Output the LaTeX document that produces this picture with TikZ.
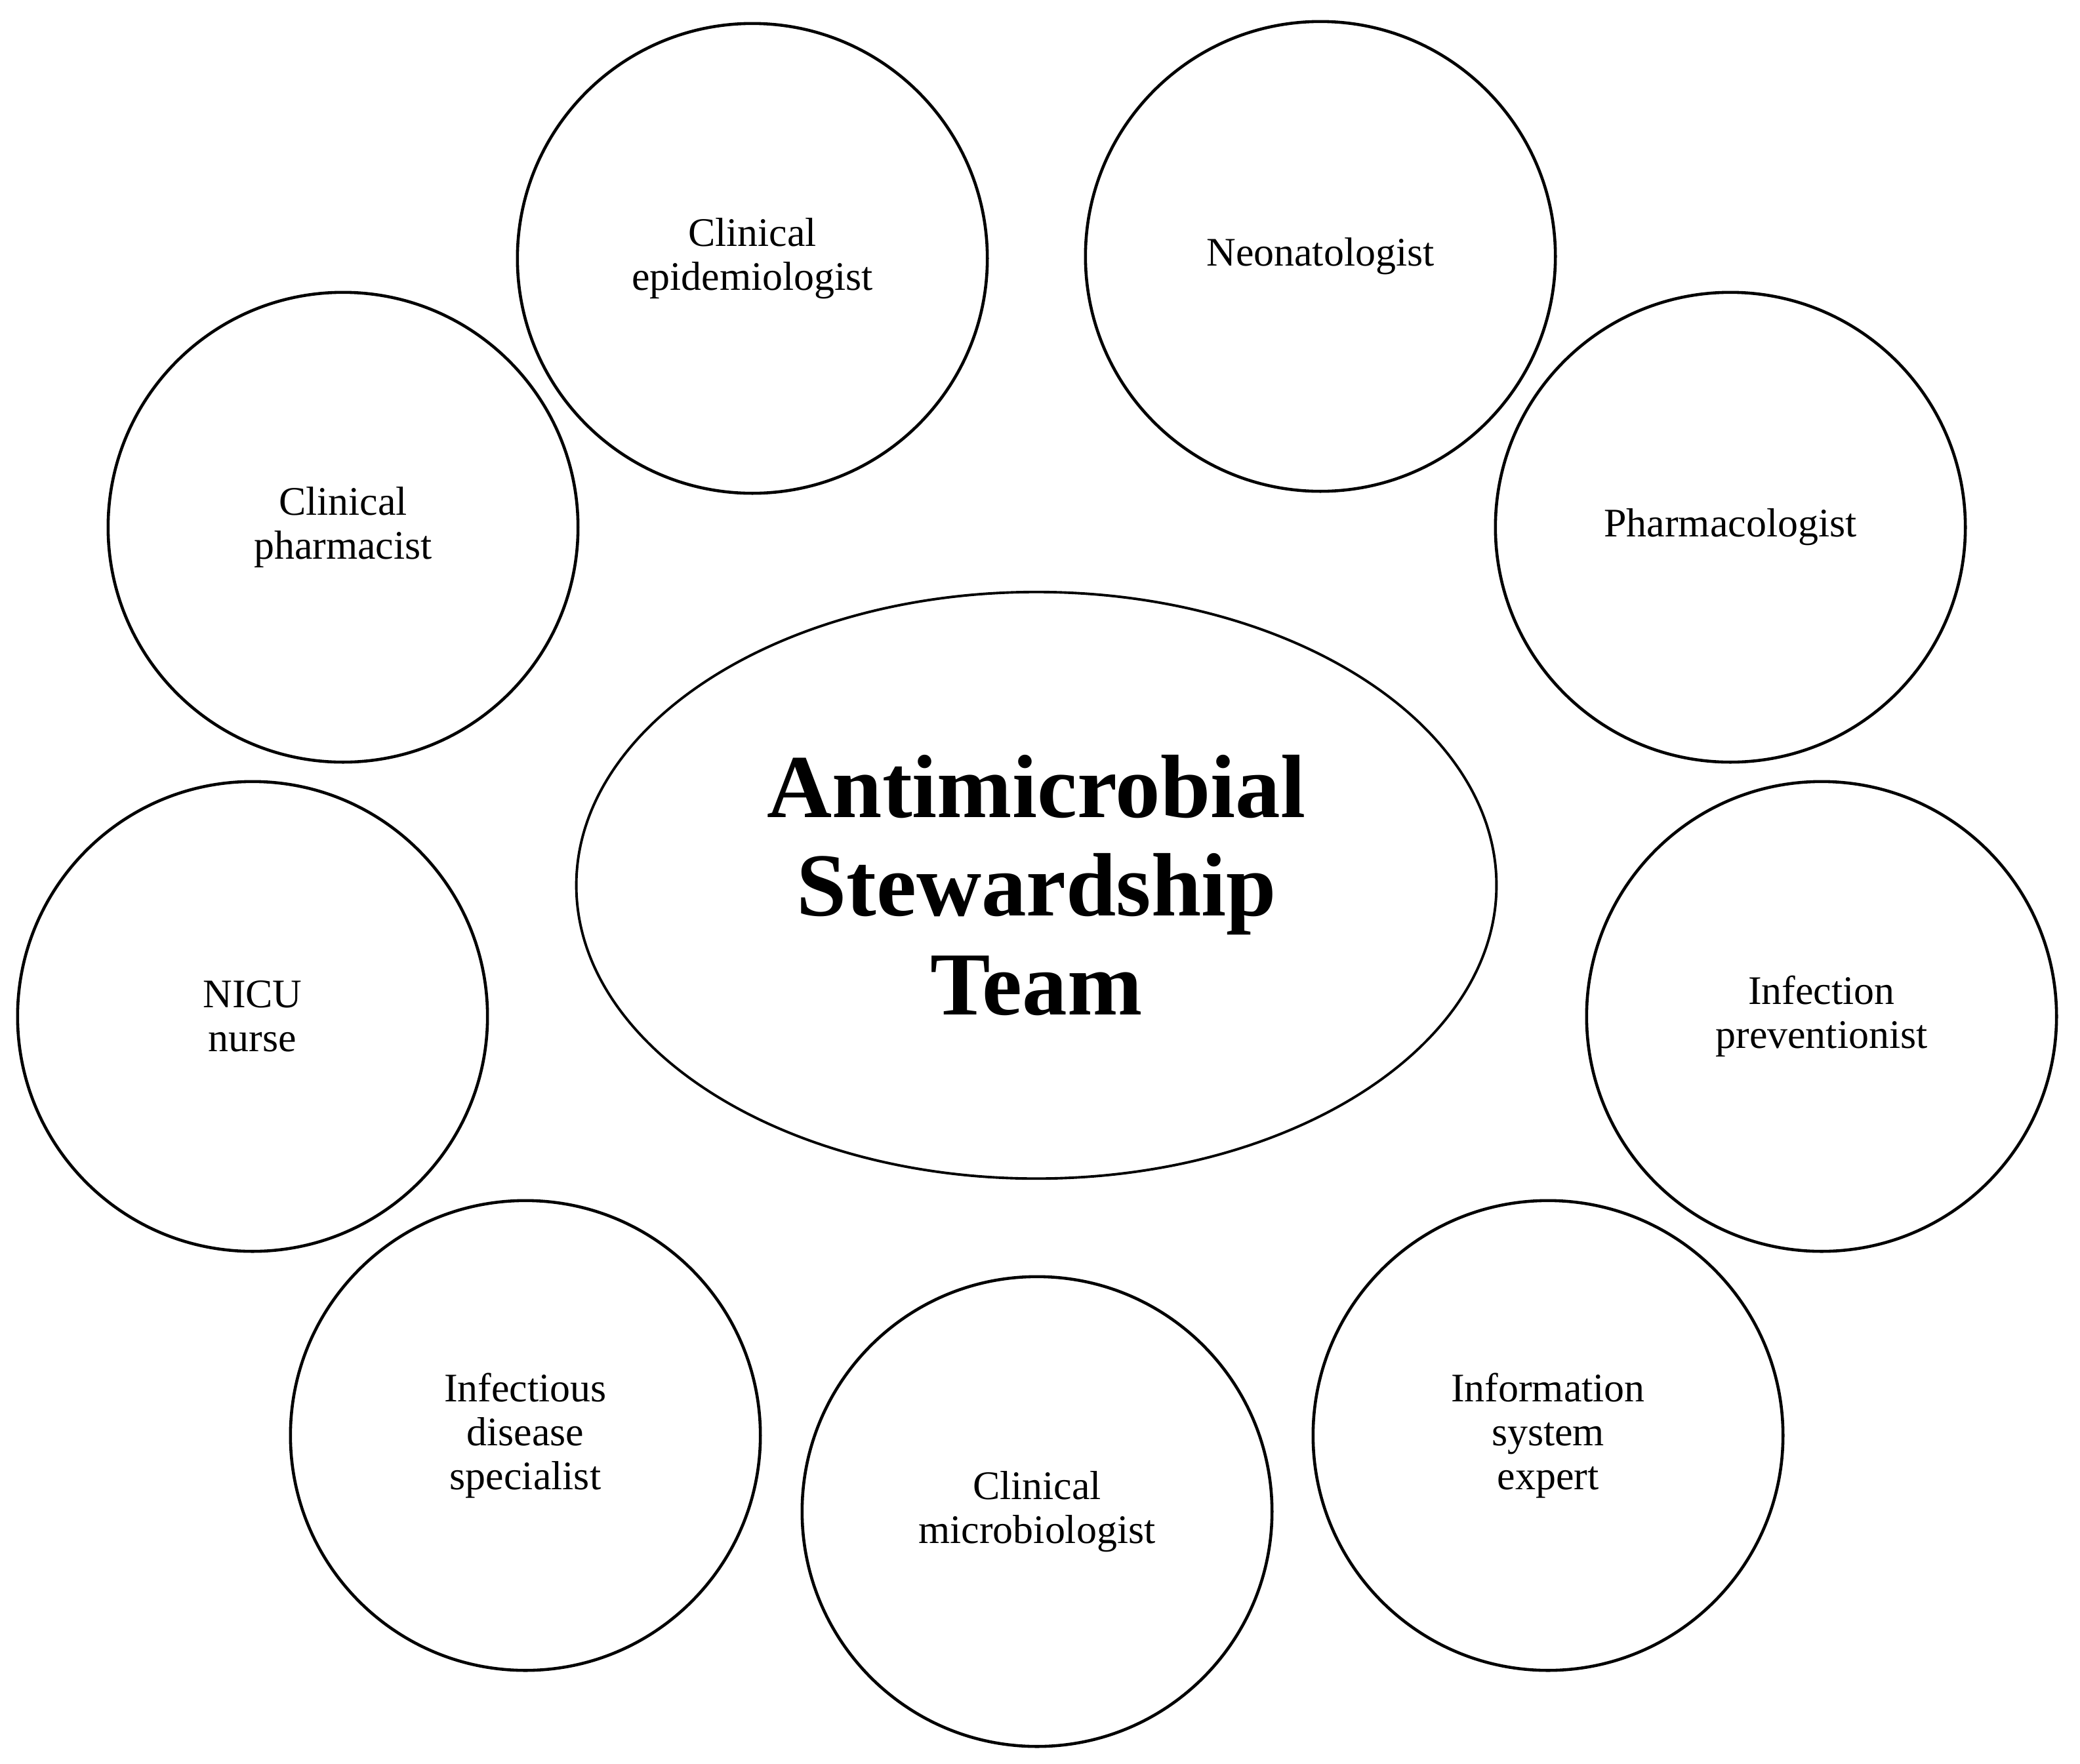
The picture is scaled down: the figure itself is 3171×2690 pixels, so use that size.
\documentclass[tikz,border=0pt]{standalone}
\usepackage{fontspec}
\setmainfont{Liberation Serif}
\usetikzlibrary{shapes.geometric}
\tikzset{
  member/.style={draw=black, line width=1.3pt, circle, minimum size=7.16cm, inner sep=0pt,
    align=center, font=\fontsize{17.6}{19}\selectfont},
  core/.style={draw=black, line width=1.1pt, ellipse, minimum width=14.02cm, minimum height=8.94cm,
    inner sep=0pt, align=center, font=\fontsize{39}{42.8}\selectfont\bfseries}
}
\begin{document}
\begin{tikzpicture}[x=0.01cm, y=-0.01cm]
\useasboundingbox (0,0) rectangle (3171,2690);
\node[core] (team) at (1580,1350) {Antimicrobial\\Stewardship\\Team};
\node[member] (epi) at (1147,394) {Clinical\\epidemiologist};
\node[member] (neo) at (2013,391) {Neonatologist};
\node[member] (cph) at (523,804) {Clinical\\pharmacist};
\node[member] (pha) at (2638,804) {Pharmacologist};
\node[member] (nicu) at (385,1550) {NICU\\nurse};
\node[member] (ipr) at (2777,1550) {Infection\\preventionist};
\node[member] (ids) at (801,2189) {Infectious\\disease\\specialist};
\node[member] (mic) at (1581,2305) {Clinical\\microbiologist};
\node[member] (ise) at (2360,2189) {Information\\system\\expert};
\end{tikzpicture}
\end{document}
